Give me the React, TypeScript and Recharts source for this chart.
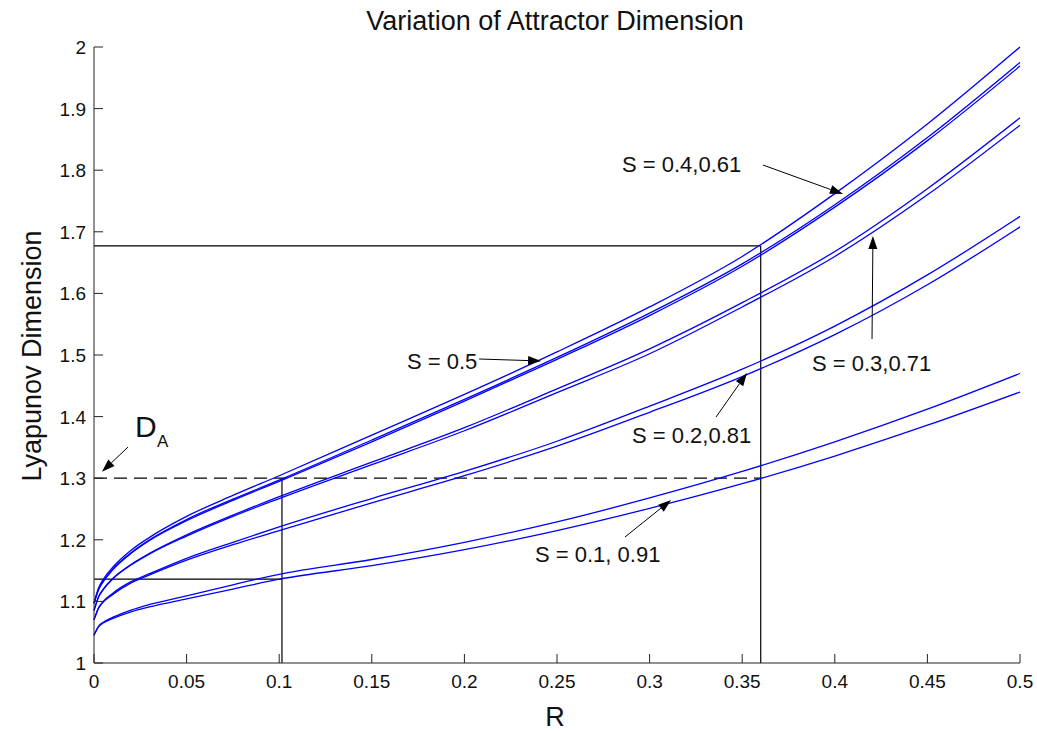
import { LineChart, Line, XAxis, YAxis, ReferenceLine } from 'recharts'

const FONT = '"Liberation Sans", Arial, sans-serif'
const AXIS = '#222'
const BLUE = '#0000ff'

// R samples (x) and Lyapunov dimension per S value (y)
const R_VALUES = [0, 0.0025, 0.005, 0.01, 0.02, 0.03, 0.05, 0.075, 0.1, 0.15, 0.2, 0.25, 0.3, 0.35, 0.4, 0.45, 0.5]

const S05 = [1.097, 1.122, 1.136, 1.155, 1.183, 1.204, 1.238, 1.272, 1.304, 1.37, 1.436, 1.505, 1.578, 1.66, 1.762, 1.875, 2.0]
const S04 = [1.097, 1.12, 1.133, 1.152, 1.179, 1.2, 1.233, 1.266, 1.297, 1.362, 1.428, 1.496, 1.568, 1.648, 1.744, 1.853, 1.975]
const S061 = [1.097, 1.119, 1.132, 1.151, 1.178, 1.199, 1.231, 1.264, 1.295, 1.359, 1.425, 1.493, 1.564, 1.644, 1.74, 1.848, 1.969]
const S03 = [1.085, 1.108, 1.12, 1.137, 1.16, 1.178, 1.208, 1.24, 1.27, 1.326, 1.382, 1.445, 1.51, 1.585, 1.668, 1.77, 1.885]
const S071 = [1.085, 1.107, 1.119, 1.136, 1.159, 1.177, 1.206, 1.238, 1.267, 1.322, 1.377, 1.439, 1.502, 1.578, 1.66, 1.76, 1.873]
const S02 = [1.07, 1.09, 1.1, 1.113, 1.132, 1.145, 1.17, 1.196, 1.221, 1.267, 1.311, 1.36, 1.417, 1.477, 1.547, 1.63, 1.725]
const S081 = [1.07, 1.089, 1.099, 1.111, 1.13, 1.143, 1.167, 1.192, 1.215, 1.26, 1.304, 1.352, 1.407, 1.465, 1.533, 1.614, 1.708]
const S01 = [1.045, 1.06, 1.066, 1.074, 1.086, 1.095, 1.109, 1.127, 1.144, 1.168, 1.196, 1.229, 1.268, 1.311, 1.359, 1.412, 1.47]
const S091 = [1.045, 1.059, 1.065, 1.072, 1.083, 1.091, 1.104, 1.12, 1.136, 1.158, 1.184, 1.215, 1.251, 1.291, 1.336, 1.386, 1.44]

const X_TICKS = [0, 0.05, 0.1, 0.15, 0.2, 0.25, 0.3, 0.35, 0.4, 0.45, 0.5]
const X_TICK_LABELS = ['0', '0.05', '0.1', '0.15', '0.2', '0.25', '0.3', '0.35', '0.4', '0.45', '0.5']
const Y_TICKS = [1, 1.1, 1.2, 1.3, 1.4, 1.5, 1.6, 1.7, 1.8, 1.9, 2]
const Y_TICK_LABELS = ['1', '1.1', '1.2', '1.3', '1.4', '1.5', '1.6', '1.7', '1.8', '1.9', '2']

// construction lines [R1, D1, R2, D2]
const GUIDES = [
  [0, 1.136, 0.1015, 1.136],
  [0.1015, 1, 0.1015, 1.3],
  [0, 1.677, 0.36, 1.677],
  [0.36, 1, 0.36, 1.677],
]
const DASHED = [0, 1.3, 0.36, 1.3]

// annotation arrows [R1, D1, R2(tip), D2(tip)]
const ARROWS = [
  [0.0184, 1.3506, 0.0043, 1.3105],
  [0.3612, 1.8084, 0.4044, 1.7614],
  [0.2079, 1.4935, 0.2414, 1.4903],
  [0.4201, 1.526, 0.4206, 1.6932],
  [0.3359, 1.3994, 0.3526, 1.4708],
  [0.2867, 1.2045, 0.3116, 1.2646],
]

const SERIES: [string, number[]][] = [
  ['s05', S05], ['s04', S04], ['s061', S061], ['s03', S03], ['s071', S071],
  ['s02', S02], ['s081', S081], ['s01', S01], ['s091', S091],
]

const data = R_VALUES.map((r, i) => {
  const row: Record<string, number> = { R: r }
  SERIES.forEach(([k, v]) => { row[k] = v[i] })
  return row
})

const label = (ticks: number[], labels: string[], v: number) => {
  const i = ticks.indexOf(v)
  return i >= 0 ? labels[i] : String(v)
}

const BottomTick = ({ x, y, payload }: any) => (
  <g>
    <line x1={x} x2={x} y1={y - 10} y2={y - 19} stroke={AXIS} />
    <text x={x} y={y + 15} textAnchor="middle" fontSize={19} fontFamily={FONT} fill="#111">
      {label(X_TICKS, X_TICK_LABELS, payload.value)}
    </text>
  </g>
)

const LeftTick = ({ x, y, payload }: any) => (
  <g>
    <line x1={x + 8} x2={x + 17} y1={y} y2={y} stroke={AXIS} />
    <text x={x} y={y + 7} textAnchor="end" fontSize={19} fontFamily={FONT} fill="#111">
      {label(Y_TICKS, Y_TICK_LABELS, payload.value)}
    </text>
  </g>
)

const TopTick = ({ x, y }: any) => <line x1={x} x2={x} y1={y} y2={y + 9} stroke={AXIS} />
const RightTick = ({ x, y }: any) => <line x1={x} x2={x - 9} y1={y} y2={y} stroke={AXIS} />

const Arrow = (props: any) => {
  const { x1, y1, x2, y2 } = props
  const a = Math.atan2(y2 - y1, x2 - x1)
  const len = 13
  const half = 4.5
  const bx = x2 - len * Math.cos(a)
  const by = y2 - len * Math.sin(a)
  const p1 = `${bx + half * Math.sin(a)},${by - half * Math.cos(a)}`
  const p2 = `${bx - half * Math.sin(a)},${by + half * Math.cos(a)}`
  return (
    <g>
      <line x1={x1} y1={y1} x2={bx} y2={by} stroke="#000" strokeWidth={1} />
      <polygon points={`${x2},${y2} ${p1} ${p2}`} fill="#000" />
    </g>
  )
}

const TEXT = { fontFamily: FONT, fill: '#111' }

export default function App() {
  return (
    <div style={{ position: 'relative', width: 1037, height: 731, background: '#fff' }}>
      <style>{'body{margin:0;background:#fff}'}</style>
      <LineChart width={1037} height={731} data={data} margin={{ top: 47, right: 17, bottom: 0, left: 0 }}>
        <XAxis dataKey="R" type="number" domain={[0, 0.5]} ticks={X_TICKS} interval={0}
          height={68} tickSize={0} tickMargin={10} tickLine={false}
          axisLine={{ stroke: AXIS }} tick={<BottomTick />} />
        <XAxis xAxisId="top" orientation="top" dataKey="R" type="number" domain={[0, 0.5]} ticks={X_TICKS}
          interval={0} height={0} tickSize={0} tickMargin={0} tickLine={false}
          axisLine={{ stroke: AXIS }} tick={<TopTick />} />
        <YAxis type="number" domain={[1, 2]} ticks={Y_TICKS} interval={0} width={94}
          tickSize={0} tickMargin={8} tickLine={false} axisLine={{ stroke: AXIS }} tick={<LeftTick />} />
        <YAxis yAxisId="right" orientation="right" type="number" domain={[1, 2]} ticks={Y_TICKS}
          interval={0} width={0} tickSize={0} tickMargin={0} tickLine={false}
          axisLine={{ stroke: AXIS }} tick={<RightTick />} />

        {GUIDES.map((g, i) => (
          <ReferenceLine key={'g' + i} segment={[{ x: g[0], y: g[1] }, { x: g[2], y: g[3] }]}
            stroke="#000" strokeWidth={1.2} />
        ))}
        <ReferenceLine segment={[{ x: DASHED[0], y: DASHED[1] }, { x: DASHED[2], y: DASHED[3] }]}
          stroke="#000" strokeWidth={1.2} strokeDasharray="13 7" />

        {SERIES.map(([k]) => (
          <Line key={k} dataKey={k} type="monotone" stroke={BLUE} strokeWidth={1.3} dot={false}
            isAnimationActive={false} />
        ))}

        {ARROWS.map((a, i) => (
          <ReferenceLine key={'a' + i} segment={[{ x: a[0], y: a[1] }, { x: a[2], y: a[3] }]}
            stroke="#000" shape={<Arrow />} />
        ))}
      </LineChart>

      <svg width={1037} height={731} style={{ position: 'absolute', left: 0, top: 0, pointerEvents: 'none' }}>
        <text x={555} y={30} textAnchor="middle" fontSize={27} {...TEXT}>Variation of Attractor Dimension</text>
        <text transform="translate(41,356) rotate(-90)" textAnchor="middle" fontSize={27} {...TEXT}>Lyapunov Dimension</text>
        <text x={555} y={726} textAnchor="middle" fontSize={27} {...TEXT}>R</text>
        <text x={135} y={437} fontSize={30} {...TEXT}>D</text>
        <text x={157} y={447} fontSize={17} {...TEXT}>A</text>
        <text x={622} y={172} fontSize={22} {...TEXT}>S = 0.4,0.61</text>
        <text x={407} y={369} fontSize={22} {...TEXT}>S = 0.5</text>
        <text x={812} y={371} fontSize={22} {...TEXT}>S = 0.3,0.71</text>
        <text x={632} y={443} fontSize={22} {...TEXT}>S = 0.2,0.81</text>
        <text x={535} y={562} fontSize={22} {...TEXT}>S = 0.1, 0.91</text>
      </svg>
    </div>
  )
}
